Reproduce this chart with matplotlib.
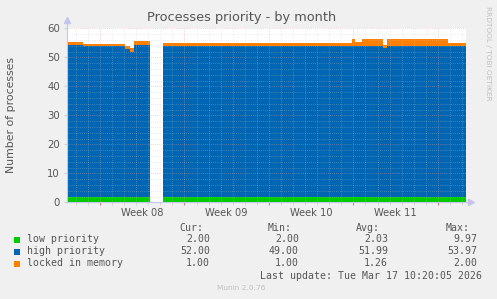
import numpy as np
import matplotlib
matplotlib.use("Agg")
from matplotlib import pyplot as plt
from matplotlib.patches import Rectangle

# time axis in days from the left edge of the graph
edges = [0, 1.33, 4.8, 5.2, 5.55, 6.88, 7.95, 22.6, 23.6, 23.86, 24.44, 26.2, 26.5, 31.57, 33.06]
low = [2, 2, 2, 2, 2, np.nan, 2, 2, 2, 2, 2, 2, 2, 2]
high = [52.2, 51.9, 50.7, 49.9, 52.4, np.nan, 52.0, 52.0, 52.0, 52.0, 52.0, 51.3, 52.0, 52.0]
locked = [1.2, 0.8, 1.2, 1.2, 1.1, np.nan, 1.0, 1.0, 2.2, 1.2, 2.2, 1.0, 2.2, 1.0]

week_starts = [2.73, 9.73, 16.73, 23.73, 30.73]
week_labels = ["Week 08", "Week 09", "Week 10", "Week 11"]

series_names = ["low priority", "high priority", "locked in memory"]
series_colors = ["#00CC00", "#0066B3", "#FF8000"]
cur = ["2.00", "52.00", "1.00"]
mins = ["2.00", "49.00", "1.00"]
avgs = ["2.03", "51.99", "1.26"]
maxs = ["9.97", "53.97", "2.00"]

W, H = 497, 299
fig = plt.figure(figsize=(W / 100, H / 100), dpi=100, facecolor="#F0F0F0")
ax = fig.add_axes([67 / W, 1 - 202.3 / H, 399 / W, 174 / H])
ax.set_facecolor("white")

low_a = np.array(low)
high_a = np.array(high)
locked_a = np.array(locked)
ax.stairs(low_a, edges, baseline=0, fill=True, color=series_colors[0], zorder=2)
ax.stairs(low_a + high_a, edges, baseline=low_a, fill=True, color=series_colors[1], zorder=2)
ax.stairs(low_a + high_a + locked_a, edges, baseline=low_a + high_a, fill=True,
          color=series_colors[2], zorder=2)

ax.set_xlim(0, edges[-1])
ax.set_ylim(0, 60)

# grid on top of data, munin style
minor_c = "#c8c8c8"
major_c = "#e49a9a"
for d in np.arange(week_starts[0] - 2, edges[-1], 1.0):
    if min(abs(d - w) for w in week_starts) < 0.01:
        continue
    ax.axvline(d, color=minor_c, lw=0.5, ls=(0, (1, 2)), alpha=0.6, zorder=3)
for w in week_starts:
    ax.axvline(w, color=major_c, lw=0.5, ls=(0, (1, 2)), alpha=0.8, zorder=3)
for y in range(2, 61, 2):
    if y % 10 == 0:
        ax.axhline(y, color=major_c, lw=0.5, ls=(0, (1, 2)), alpha=0.8, zorder=3)
    else:
        ax.axhline(y, color=minor_c, lw=0.5, ls=(0, (1, 2)), alpha=0.6, zorder=3)

for s in ax.spines.values():
    s.set_visible(False)
axis_c = "#c4c4ec"
ax.plot([0, 0], [0, 1.045], color=axis_c, lw=0.8, transform=ax.transAxes, clip_on=False, zorder=4)
ax.plot([0], [1.05], marker="^", ms=5, color=axis_c, transform=ax.transAxes, clip_on=False, zorder=4)
ax.plot([0, 1.01], [0, 0], color=axis_c, lw=0.8, transform=ax.transAxes, clip_on=False, zorder=4)
ax.plot([1.013], [0], marker=">", ms=5, color=axis_c, transform=ax.transAxes, clip_on=False, zorder=4)

ax.set_xticks(week_starts)
ax.set_xticks(np.arange(week_starts[0] - 2, edges[-1], 1.0), minor=True)
ax.tick_params(axis="x", which="major", length=2, color="#e08080", labelbottom=False)
ax.tick_params(axis="x", which="minor", length=2, color="#d0d0d0")
ax.set_yticks(range(0, 61, 10))
ax.tick_params(axis="y", length=2, color="#d0d0d0", labelsize=7.3, labelcolor="#555555", pad=3)
for i, lab in enumerate(week_labels):
    ax.text((week_starts[i] + week_starts[i + 1]) / 2, -0.035, lab, transform=ax.get_xaxis_transform(),
            ha="center", va="top", fontsize=7.1, color="#555555")

fig.text(242 / W, 1 - 17 / H, "Processes priority - by month", ha="center", va="center",
         fontsize=9.3, color="#555555")
fig.text(11 / W, 1 - 115 / H, "Number of processes", rotation=90, ha="center", va="center",
         fontsize=7.8, color="#555555")
fig.text(488 / W, 1 - 53 / H, "RRDTOOL / TOBI OETIKER", rotation=270, ha="center", va="center",
         fontsize=5.3, color="#c0c0c0")
fig.text(241 / W, 1 - 288 / H, "Munin 2.0.76", ha="center", va="center", fontsize=5.3, color="#c0c0c0")

mono = dict(family="DejaVu Sans Mono", fontsize=7.1, color="#555555", va="center")
header_y = 228
row_y = [239.5, 251.5, 263.5]
for x, h in zip([203, 292, 380, 470], ["Cur:", "Min:", "Avg:", "Max:"]):
    fig.text(x / W, 1 - header_y / H, h, ha="right", **mono)
for i in range(3):
    y = 1 - row_y[i] / H
    fig.patches.append(Rectangle((14 / W, y - 3 / H), 6 / W, 6 / H, transform=fig.transFigure,
                                 facecolor=series_colors[i], edgecolor="none"))
    fig.text(27 / W, y, series_names[i], ha="left", **mono)
    fig.text(210 / W, y, cur[i], ha="right", **mono)
    fig.text(299 / W, y, mins[i], ha="right", **mono)
    fig.text(388 / W, y, avgs[i], ha="right", **mono)
    fig.text(477 / W, y, maxs[i], ha="right", **mono)
fig.text(482 / W, 1 - 276 / H, "Last update: Tue Mar 17 10:20:05 2026", ha="right", **mono)

fig.savefig("out.png", dpi=100, facecolor=fig.get_facecolor())
